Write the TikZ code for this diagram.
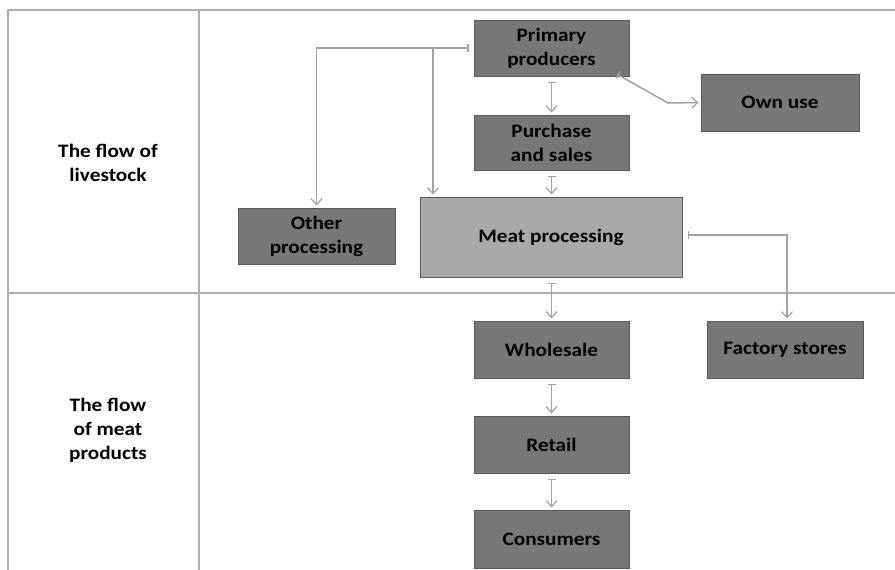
\documentclass[tikz,border=0pt]{standalone}
\usepackage{fontspec}
\setmainfont{Carlito}[FakeStretch=1.12]
\usetikzlibrary{arrows.meta}
\definecolor{boxdark}{HTML}{787878}
\definecolor{boxlight}{HTML}{A9A9A9}
\definecolor{boxline}{HTML}{5A5A5A}
\definecolor{conncol}{HTML}{A3A3A3}
\definecolor{framecol}{HTML}{B0B0B0}
\tikzset{
  stagebox/.style={draw=boxline, line width=1pt, fill=boxdark, minimum width=155pt, minimum height=56pt,
    inner sep=0pt, align=center, font=\fontsize{19}{24}\selectfont\bfseries, text=black},
  conn/.style={draw=conncol, line width=1.5pt, {Bar[width=8pt,line width=1.2pt]}-{Straight Barb[length=6pt,width=11pt,line width=1.2pt]}, shorten <=5pt, shorten >=2pt},
  connb/.style={draw=conncol, line width=1.5pt, -{Straight Barb[length=6pt,width=11pt,line width=1.2pt]}, shorten >=2pt},
  framel/.style={draw=framecol, line width=1.2pt},
  sidelabel/.style={align=center, font=\fontsize{19}{24}\selectfont\bfseries, text=black}
}
\begin{document}
\begin{tikzpicture}[x=1pt,y=-1pt]
\useasboundingbox (0,0) rectangle (895,570);
\fill[white] (0,0) rectangle (895,570);
% frame
\draw[framel] (8,570) -- (8,10) -- (895,10);
\draw[framel] (199,10) -- (199,570);
\draw[framel] (8,293) -- (895,293);
% side labels
\node[sidelabel] (l1) at (108,163) {The flow of\\livestock};
\node[sidelabel] (l2) at (108,430) {The flow\\of meat\\products};
% boxes
\node[stagebox] (pp) at (551.5,48) {Primary\\producers};
\node[stagebox, minimum width=158pt, minimum height=57pt] (own) at (780,102.5) {Own use};
\node[stagebox, minimum height=55pt] (ps) at (551.5,142.5) {Purchase\\and sales};
\node[stagebox, fill=boxlight, minimum width=262pt, minimum height=80pt] (mp) at (551,237) {Meat processing};
\node[stagebox, minimum width=157pt] (op) at (316.5,236) {Other\\processing};
\node[stagebox, minimum height=57pt] (ws) at (551.5,349.5) {Wholesale};
\node[stagebox, minimum width=156pt, minimum height=57pt] (fs) at (785,349.5) {Factory stores};
\node[stagebox, minimum height=57pt] (rt) at (551.5,444.5) {Retail};
\node[stagebox, minimum height=58pt] (cs) at (551.5,539) {Consumers};
% connectors
\coordinate (br) at (433,48);
\draw[conn] (pp.west) -| (op.north);
\draw[connb] (br) -- (br |- mp.north);
\draw[conn] (pp.south) -- (ps.north);
\coordinate (k) at (668,103);
\draw[conn, shorten <=0pt] ([xshift=-12pt,yshift=2pt]pp.south east) -- (k) -- (own.west);
\draw[conn] (ps.south) -- (mp.north -| ps.south);
\coordinate (fk) at (787,235);
\draw[conn] (mp.east |- fk) -- (fk) -- (fk |- fs.north);
\draw[conn] (mp.south -| ws.north) -- (ws.north);
\draw[conn] (ws.south) -- (rt.north);
\draw[conn] (rt.south) -- (cs.north);
\end{tikzpicture}
\end{document}
